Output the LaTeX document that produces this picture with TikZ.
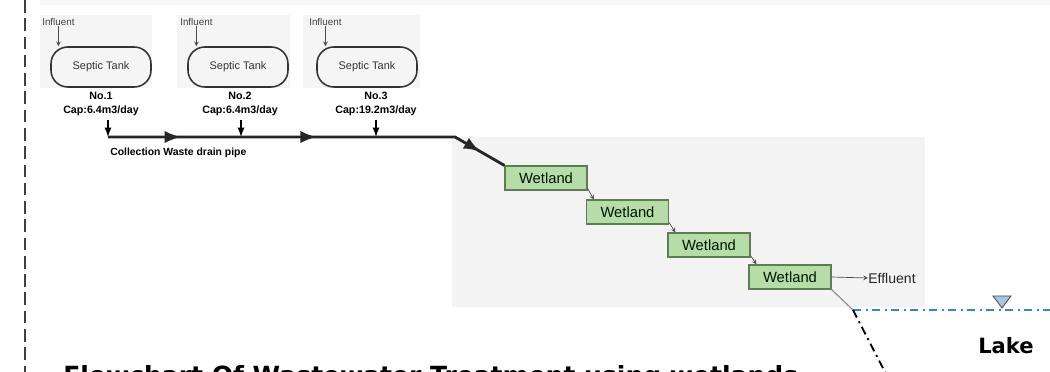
\documentclass[tikz,border=0pt]{standalone}
\usepackage{fontspec}
\setmainfont{Liberation Sans}
\newfontfamily\headfont{DejaVu Sans}
\usetikzlibrary{decorations.markings}
\definecolor{panelgray}{HTML}{F3F3F3}
\definecolor{wetgreen}{HTML}{B6DCA8}
\definecolor{wetedge}{HTML}{5E7D55}
\definecolor{lakeblue}{HTML}{3A86C4}
\definecolor{waterfill}{HTML}{A8C4E6}

\begin{document}
\begin{tikzpicture}[x=0.025cm,y=-0.025cm,
		tank/.style={draw=black!80,line width=1.1pt,rounded corners=0.42cm,minimum width=2.5cm,minimum height=1cm,font=\fontsize{7.8}{8}\selectfont,text=black!80},
		inlab/.style={anchor=west,inner sep=0pt,font=\fontsize{7}{8}\selectfont,text=black!75},
		caplab/.style={align=center,inner sep=0pt,font=\fontsize{7.6}{9.5}\selectfont\bfseries},
		wet/.style={draw=wetedge,fill=wetgreen,line width=0.8pt,minimum width=2.05cm,minimum height=0.6cm,inner sep=0pt,font=\fontsize{10.5}{12}\selectfont,text=black!80!green!40!black},
		feed/.style={-stealth,line width=0.5pt,black!70},
		drop/.style={-latex,line width=1.3pt},
		pipe/.style={line width=2pt,black!85,postaction={decorate},decoration={markings,
			mark=at position 0.18 with {\arrow[scale=1.3]{latex}},
			mark=at position 0.516 with {\arrow[scale=1.3]{latex}},
			mark=at position 0.93 with {\arrow[scale=1.3]{latex}}}},
		dashdot/.style={line width=1.3pt,dash pattern=on 6pt off 3pt on 1.5pt off 3pt}]
	\useasboundingbox (0,0) rectangle (1050,372);
	\clip (0,0) rectangle (1050,372);
	\fill[panelgray!60] (40,0) rectangle (1050,5);
	\fill[panelgray!80] (40,15) rectangle (152,88);
	\fill[panelgray!80] (177,15) rectangle (290,88);
	\fill[panelgray!80] (303,15) rectangle (420,88);
	\fill[panelgray] (452,137) rectangle (925,307);
	\draw[black!75,line width=1.3pt,dash pattern=on 9pt off 4pt] (25,0) -- (25,372);

	\node[tank] (t1) at (101,67) {Septic Tank};
	\node[tank] (t2) at (238,67) {Septic Tank};
	\node[tank] (t3) at (367,67) {Septic Tank};
	\node[inlab] (in1) at (42,22) {Influent};
	\node[inlab] (in2) at (180,22) {Influent};
	\node[inlab] (in3) at (309,22) {Influent};
	\draw[feed] (in1.south) -- (in1.south |- t1.north);
	\draw[feed] (in2.south) -- (in2.south |- t2.north);
	\draw[feed] (in3.south) -- (in3.south |- t3.north);
	\node[caplab] (c1) at (101,104) {No.1\\Cap:6.4m3/day};
	\node[caplab] (c2) at (240,104) {No.2\\Cap:6.4m3/day};
	\node[caplab] (c3) at (376,104) {No.3\\Cap:19.2m3/day};

	\coordinate (j1) at (108,137);
	\coordinate (j2) at (241,137);
	\coordinate (j3) at (376,137);
	\coordinate (bend) at (455,137);
	\draw[drop] ([yshift=-0.1cm]c1.south -| j1) -- (j1);
	\draw[drop] ([yshift=-0.1cm]c2.south -| j2) -- (j2);
	\draw[drop] ([yshift=-0.1cm]c3.south -| j3) -- (j3);
	\node[anchor=west,inner sep=0pt,font=\fontsize{7.4}{9}\selectfont\bfseries] (pipelab) at (110,153) {Collection Waste drain pipe};

	\node[wet] (w1) at (546,178) {Wetland};
	\node[wet] (w2) at (627.5,212) {Wetland};
	\node[wet] (w3) at (709,245) {Wetland};
	\node[wet] (w4) at (790,277) {Wetland};
	\draw[pipe] (j1) -- (j2) -- (j3) -- (bend) -- (w1.north west);
	\draw[feed] ([yshift=0.05cm]w1.south east) -- ([xshift=0.2cm]w2.north west);
	\draw[feed] ([yshift=0.05cm]w2.south east) -- ([xshift=0.2cm]w3.north west);
	\draw[feed] ([yshift=0.05cm]w3.south east) -- ([xshift=0.2cm]w4.north west);
	\node[anchor=west,inner sep=0pt,font=\fontsize{10}{12}\selectfont,text=black!85] (eff) at (868,278) {Effluent};
	\draw[feed] (w4.east) -- (eff.west);

	\coordinate (bank) at (853,310);
	\coordinate (shore) at (1050,310);
	\coordinate (bed) at (886,374);
	\draw[black!45,line width=0.8pt] (w4.south east) -- (bank);
	\draw[dashdot,lakeblue] (bank) -- (shore);
	\draw[dashdot,black] (bank) -- (bed);
	\filldraw[fill=waterfill,draw=black!70,line width=0.6pt] (993,296) -- (1011,296) -- (1002,308) -- cycle;
	\node[font=\headfont\bfseries\fontsize{15}{18}\selectfont] (lake) at (1006,346) {Lake};
	\node[anchor=north west,inner sep=0pt,font=\headfont\bfseries\fontsize{17.8}{21}\selectfont] (title) at (63,365) {Flowchart Of Wastewater Treatment using wetlands};
\end{tikzpicture}
\end{document}
